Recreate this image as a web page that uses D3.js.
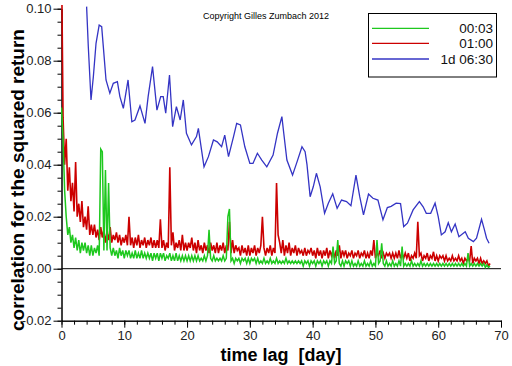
<!DOCTYPE html>
<html>
<head>
<meta charset="utf-8">
<script src="https://cdn.jsdelivr.net/npm/d3@7"></script>
<style>
  body { margin: 0; background: #fff; }
  text { font-family: "Liberation Sans", Arial, sans-serif; }
</style>
</head>
<body>
<div id="chart"></div>
<script>
// lag step (days) of the two sampled series
const lagStep = 0.25;

// 00:03 series, one value per lagStep starting at lag 0
const green0003 = [
  .062,.050,.030,.020,.013,.016,.010,.013,.008,.012,.007,.011,.006,.010,.007,.010,.006,.009,.005,.009,
  .005,.008,.006,.009,.005,.046,.045,.007,.038,.007,.033,.008,.005,.008,.005,.007,.004,.008,.005,.007,
  .004,.007,.005,.007,.004,.006,.004,.007,.004,.006,.004,.007,.004,.006,.004,.006,.004,.006,.003,.006,
  .004,.006,.003,.006,.004,.006,.003,.005,.004,.006,.003,.005,.003,.006,.003,.005,.003,.005,.003,.005,
  .003,.005,.003,.005,.003,.005,.003,.005,.003,.004,.003,.005,.003,.005,.015,.004,.003,.005,.003,.004,
  .003,.004,.003,.005,.003,.004,.020,.023,.003,.004,.002,.004,.003,.004,.002,.004,.003,.004,.002,.004,
  .002,.004,.003,.004,.002,.004,.002,.003,.002,.004,.002,.003,.002,.004,.002,.003,.002,.004,.002,.003,
  .002,.003,.002,.004,.002,.003,.002,.003,.002,.003,.002,.003,.002,.003,.001,.003,.002,.003,.001,.003,
  .002,.003,.001,.003,.002,.003,.001,.003,.002,.003,.001,.003,.002,.0085,.002,.003,.011,.002,.001,.003,
  .001,.003,.002,.003,.001,.003,.001,.002,.001,.003,.001,.002,.001,.003,.001,.002,.001,.003,.001,.002,
  .001,.011,.002,.003,.0098,.002,.001,.003,.001,.002,.001,.003,.001,.002,.001,.003,.001,.0085,.001,.002,
  .001,.002,.001,.003,.001,.002,.001,.002,.001,.003,.001,.002,.001,.002,.001,.002,.001,.002,.001,.002,
  .001,.002,.001,.002,.001,.002,.001,.002,.001,.002,.001,.002,.001,.002,.001,.002,.001,.002,.001,.006,
  .001,.002,.001,.002,.001,.002,.001,.002,.001,.002,.0005,.0015,.0005,.001
];

// 01:00 series
const red0100 = [
  .120,.058,.040,.050,.030,.039,.026,.033,.022,.041,.020,.025,.018,.026,.016,.020,.015,.024,.013,.017,
  .013,.017,.012,.015,.011,.016,.012,.015,.010,.014,.011,.016,.010,.013,.011,.014,.010,.013,.009,.012,
  .010,.013,.009,.020,.009,.012,.008,.012,.009,.013,.008,.011,.009,.012,.008,.011,.009,.012,.008,.011,
  .008,.011,.008,.019,.008,.011,.007,.010,.008,.039,.009,.014,.007,.010,.008,.011,.007,.013,.007,.010,
  .007,.010,.008,.012,.007,.010,.006,.011,.007,.009,.006,.010,.007,.009,.006,.010,.007,.009,.006,.010,
  .006,.009,.007,.010,.006,.009,.007,.018,.006,.011,.006,.009,.007,.008,.005,.009,.006,.008,.005,.009,
  .005,.008,.006,.009,.005,.008,.006,.009,.020,.008,.005,.008,.006,.009,.005,.008,.006,.033,.013,.010,
  .006,.011,.005,.009,.006,.010,.005,.008,.006,.009,.005,.008,.006,.007,.005,.008,.005,.007,.006,.008,
  .005,.007,.004,.008,.005,.007,.004,.007,.005,.008,.004,.007,.005,.007,.004,.007,.005,.009,.004,.007,
  .005,.007,.004,.006,.005,.007,.004,.006,.005,.007,.004,.006,.005,.007,.004,.006,.004,.007,.005,.011,
  .004,.006,.005,.007,.004,.006,.004,.006,.005,.006,.004,.006,.004,.006,.004,.007,.004,.006,.004,.006,
  .004,.006,.003,.005,.004,.006,.004,.018,.005,.006,.003,.005,.004,.006,.003,.005,.004,.0065,.003,.005,
  .003,.005,.004,.005,.003,.005,.003,.004,.003,.005,.003,.004,.003,.005,.003,.004,.002,.004,.003,.004,
  .003,.0087,.002,.004,.003,.004,.002,.004,.002,.003,.002,.003,.001,.002
];

// 1d 06:30 series, [lag, value]
const blue1d0630 = [
  [4.0,.1008],[4.27,.0854],[4.7,.0649],[5.07,.0738],[5.5,.0867],[6.0,.0937],[6.4,.0931],[6.66,.0854],
  [7.09,.0726],[7.7,.0675],[8.25,.0713],[8.9,.0719],[9.3,.0662],[9.85,.0617],[10.6,.0726],[11.2,.0565],
  [11.7,.0572],[12.5,.0626],[13.3,.0559],[13.8,.0662],[14.5,.0777],[15.2,.0610],[15.8,.0662],[16.2,.0662],
  [16.6,.0598],[17.2,.0745],[17.7,.0546],[18.3,.0623],[18.9,.0572],[19.4,.0649],[19.9,.0521],[20.7,.0476],
  [21.5,.0508],[21.8,.0540],[22.7,.0392],[23.4,.0431],[24.2,.0495],[24.8,.0488],[25.5,.0469],[26.0,.0514],
  [26.6,.0431],[27.4,.0508],[27.9,.0559],[28.5,.0553],[29.2,.0469],[30.0,.0405],[30.5,.0405],[31.2,.0444],
  [31.9,.0418],[32.7,.0392],[33.7,.0437],[34.4,.0521],[35.1,.0585],[35.4,.0521],[35.9,.0418],[36.8,.0360],
  [37.5,.0410],[38.3,.0469],[38.8,.0450],[39.1,.0400],[39.6,.0277],[40.1,.0315],[40.6,.0367],[41.2,.0315],
  [41.9,.0213],[42.5,.0252],[43.2,.0288],[43.9,.0232],[44.6,.0264],[45.4,.0258],[46.1,.0242],[46.9,.0360],
  [47.5,.0277],[48.1,.0207],[48.9,.0287],[49.6,.0271],[50.4,.0264],[51.2,.0188],[51.9,.0235],[52.5,.0240],
  [53.3,.0252],[54.0,.0250],[54.5,.0162],[55.1,.0175],[56.0,.0226],[57.0,.0258],[57.6,.0238],[58.1,.0213],
  [58.8,.0213],[59.5,.0252],[60.0,.0200],[60.5,.0130],[61.1,.0142],[61.6,.0177],[62.1,.0142],[62.7,.0172],
  [63.3,.0123],[64.3,.0142],[64.8,.0117],[65.6,.0104],[66.1,.0117],[66.9,.0190],[67.3,.0155],[67.7,.0117],
  [68.1,.0098]
];

const xTicks = [0, 10, 20, 30, 40, 50, 60, 70];
const yTicks = [-0.02, 0, 0.02, 0.04, 0.06, 0.08, 0.10];
const legendLabels = ['00:03', '01:00', '1d 06:30'];

document.addEventListener('DOMContentLoaded', function() {
    const width = 512, height = 366;
    const colors = ['#1ec81e', '#cc0000', '#3434c4'];

    const svg = d3.select('#chart').append('svg')
        .attr('width', width)
        .attr('height', height);

    const x = d3.scaleLinear().domain([0, 70]).range([61.5, 501]);
    const y = d3.scaleLinear().domain([-0.02, 0.10]).range([320.7, 8.7]);

    svg.append('defs').append('clipPath').attr('id', 'plot')
        .append('rect').attr('x', 61).attr('y', 5).attr('width', 442).attr('height', 317);

    // axes: minor ticks then major
    const minorX = d3.range(0, 71, 2), minorY = d3.range(-20, 101, 5).map(d => d / 1000);

    svg.append('g').attr('transform', 'translate(0,320.7)')
        .call(d3.axisBottom(x).tickValues(minorX).tickSize(4).tickFormat('').tickSizeOuter(0));
    svg.append('g').attr('transform', 'translate(0,320.7)')
        .call(d3.axisBottom(x).tickValues(xTicks).tickSize(7).tickSizeOuter(0).tickPadding(3)
            .tickFormat(d => d));
    svg.append('g').attr('transform', 'translate(61.5,0)')
        .call(d3.axisLeft(y).tickValues(minorY).tickSize(4).tickFormat('').tickSizeOuter(0));
    svg.append('g').attr('transform', 'translate(61.5,0)')
        .call(d3.axisLeft(y).tickValues(yTicks).tickSize(8).tickSizeOuter(0).tickPadding(2)
            .tickFormat(d => d.toFixed(2)));

    svg.selectAll('.tick text')
        .style('font-size', '13px')
        .style('font-family', '"Liberation Sans", Arial, sans-serif')
        .attr('fill', '#222');
    svg.selectAll('.domain, .tick line').attr('stroke', '#000');

    // zero line
    svg.append('line')
        .attr('x1', x(0)).attr('x2', x(70))
        .attr('y1', y(0)).attr('y2', y(0))
        .attr('stroke', '#000');

    const line = d3.line().x(d => x(d[0])).y(d => y(d[1]));
    const asPairs = arr => arr.map((v, i) => [i * lagStep, v]);

    const plot = svg.append('g').attr('clip-path', 'url(#plot)');
    plot.append('path').datum(blue1d0630)
        .attr('d', line).attr('fill', 'none').attr('stroke', colors[2]).attr('stroke-width', 1.3);
    plot.append('path').datum(asPairs(red0100))
        .attr('d', line).attr('fill', 'none').attr('stroke', colors[1]).attr('stroke-width', 1.6);
    plot.append('path').datum(asPairs(green0003))
        .attr('d', line).attr('fill', 'none').attr('stroke', colors[0]).attr('stroke-width', 1.5);

    // titles
    svg.append('text')
        .attr('x', 281).attr('y', 360.5)
        .attr('text-anchor', 'middle')
        .style('font-size', '18px').style('font-weight', 'bold')
        .style('white-space', 'pre')
        .text('time lag  [day]');

    svg.append('text')
        .attr('transform', 'translate(23.5,180) rotate(-90)')
        .attr('text-anchor', 'middle')
        .style('font-size', '19px').style('font-weight', 'bold')
        .text('correlation for the squared return');

    svg.append('text')
        .attr('x', 203).attr('y', 19)
        .style('font-size', '9px')
        .text('Copyright Gilles Zumbach 2012');

    // legend
    const legend = svg.append('g');
    legend.append('rect')
        .attr('x', 368.5).attr('y', 13.5).attr('width', 128).attr('height', 63.5)
        .attr('fill', '#fff').attr('stroke', '#000');
    const legendY = [28.3, 43.3, 59];
    legendLabels.forEach((label, i) => {
        legend.append('line')
            .attr('x1', 372).attr('x2', 429)
            .attr('y1', legendY[i]).attr('y2', legendY[i])
            .attr('stroke', colors[i]).attr('stroke-width', 1.3);
        legend.append('text')
            .attr('x', 493).attr('y', legendY[i] + 4.7)
            .attr('text-anchor', 'end')
            .style('font-size', '13.5px')
            .attr('fill', '#111')
            .text(label);
    });
});
</script>
</body>
</html>
